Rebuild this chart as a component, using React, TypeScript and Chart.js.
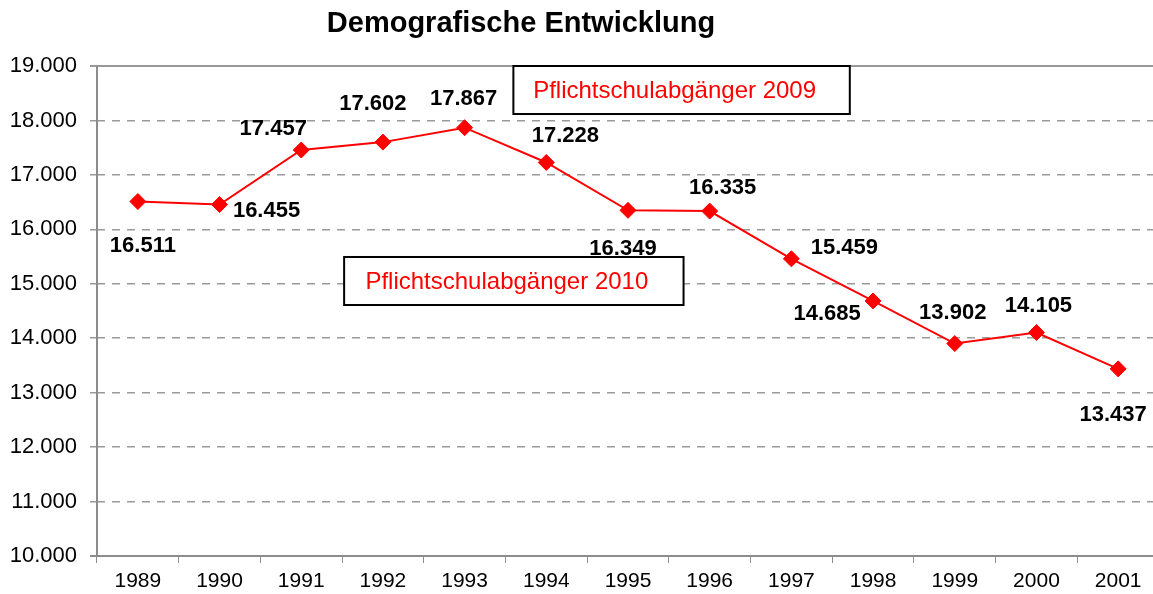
import { useEffect, useRef } from 'react';
import { Chart, registerables } from 'chart.js';

Chart.register(...registerables);

const chartTitle = 'Demografische Entwicklung';
const years = ['1989', '1990', '1991', '1992', '1993', '1994', '1995', '1996', '1997', '1998', '1999', '2000', '2001'];
const values = [16511, 16455, 17457, 17602, 17867, 17228, 16349, 16335, 15459, 14685, 13902, 14105, 13437];
const yMin = 10000;
const yMax = 19000;
const yStep = 1000;

// label offsets relative to each point (dx, dy in px)
const labelOffsets: [number, number][] = [
  [5, 44], [47, 6], [-28, -21], [-10, -38], [-1, -29], [19, -27], [-5, 39],
  [13, -23], [53, -11], [-46, 13], [-2, -31], [2, -27], [-5, 46],
];

// note boxes in data coordinates (category index, value)
const noteTexts = ['Pflichtschulabgänger 2009', 'Pflichtschulabgänger 2010'];
const noteX0 = [4.597, 2.525];
const noteX1 = [8.715, 6.68];
const noteYTop = [19000, 15492];
const noteYBottom = [18118, 14610];

const FONT = '"Liberation Sans", Arial, Helvetica, sans-serif';

const fmt = (v: number) => String(Math.round(v)).replace(/\B(?=(\d{3})+(?!\d))/g, '.');

export default function App() {
  const ref = useRef<HTMLCanvasElement | null>(null);

  useEffect(() => {
    const canvas = ref.current;
    if (!canvas) return;

    const decor = {
      id: 'decor',
      beforeDatasetsDraw(chart: any) {
        const { ctx, chartArea } = chart;
        const ys = chart.scales.y;
        ctx.save();
        ctx.strokeStyle = '#999999';
        ctx.lineWidth = 2;
        ctx.beginPath();
        const yt = Math.round(ys.getPixelForValue(yMax));
        ctx.moveTo(chartArea.left - 7, yt);
        ctx.lineTo(chart.width, yt);
        ctx.stroke();
        ctx.strokeStyle = '#8c8c8c';
        ctx.beginPath();
        const yb = Math.round(ys.getPixelForValue(yMin));
        ctx.moveTo(chartArea.left, yt);
        ctx.lineTo(chartArea.left, yb + 1);
        ctx.moveTo(chartArea.left - 7, yb);
        ctx.lineTo(chart.width, yb);
        ctx.stroke();
        ctx.restore();
      },
      afterDatasetsDraw(chart: any) {
        const { ctx } = chart;
        const meta = chart.getDatasetMeta(0);
        const xs = chart.scales.x;
        const ys = chart.scales.y;
        ctx.save();
        ctx.fillStyle = '#000';
        ctx.font = `bold 22px ${FONT}`;
        ctx.textAlign = 'center';
        ctx.textBaseline = 'middle';
        meta.data.forEach((pt: any, i: number) => {
          const [dx, dy] = labelOffsets[i];
          ctx.fillText(fmt(values[i]), pt.x + dx, pt.y + dy);
        });
        noteTexts.forEach((t, i) => {
          const x0 = xs.getPixelForValue(noteX0[i]);
          const x1 = xs.getPixelForValue(noteX1[i]);
          const y0 = ys.getPixelForValue(noteYTop[i]);
          const y1 = ys.getPixelForValue(noteYBottom[i]);
          ctx.fillStyle = '#fff';
          ctx.fillRect(x0, y0, x1 - x0, y1 - y0);
          ctx.strokeStyle = '#000';
          ctx.lineWidth = 2;
          ctx.strokeRect(x0, y0, x1 - x0, y1 - y0);
          ctx.fillStyle = '#ff0000';
          ctx.font = `24px ${FONT}`;
          ctx.fillText(t, (x0 + x1) / 2 - 7, (y0 + y1) / 2 + 1);
        });
        ctx.fillStyle = '#000';
        ctx.font = `bold 29px ${FONT}`;
        ctx.fillText(chartTitle, 521, 24);
        ctx.restore();
      },
    };

    const chart = new Chart(canvas, {
      type: 'line',
      data: {
        labels: years,
        datasets: [
          {
            data: values,
            borderColor: '#ff0000',
            borderWidth: 2,
            backgroundColor: '#ff0000',
            pointStyle: 'rectRot',
            pointRadius: 8,
            pointBackgroundColor: '#ff0000',
            pointBorderColor: '#ff0000',
            pointBorderWidth: 1,
            tension: 0,
          },
        ],
      },
      options: {
        animation: false,
        responsive: false,
        devicePixelRatio: 1,
        layout: { padding: { top: 66, right: 2, bottom: 0, left: 0 } },
        plugins: {
          legend: { display: false },
          title: { display: false },
          tooltip: { enabled: false },
        },
        scales: {
          x: {
            offset: true,
            afterFit(scale: any) {
              scale.height = 38;
            },
            grid: {
              offset: true,
              drawOnChartArea: false,
              drawTicks: true,
              tickLength: 7,
              tickColor: '#8c8c8c',
              tickWidth: 1,
            },
            border: { display: false },
            ticks: {
              color: '#000',
              font: { family: FONT, size: 21 },
              padding: 6,
              maxRotation: 0,
              autoSkip: false,
            },
          },
          y: {
            min: yMin,
            max: yMax,
            afterFit(scale: any) {
              scale.width = 97;
            },
            grid: {
              color: (c: any) =>
                c.tick && (c.tick.value === yMax || c.tick.value === yMin) ? 'rgba(0,0,0,0)' : '#9a9a9a',
              lineWidth: 1.5,
              tickLength: 7,
              tickColor: '#9a9a9a',
              tickWidth: 1.5,
            },
            border: { display: false, dash: [8, 7] },
            ticks: {
              stepSize: yStep,
              color: '#000',
              padding: 13,
              font: { family: FONT, size: 22 },
              callback: (v: any) => fmt(Number(v)),
            },
          },
        },
      },
      plugins: [decor],
    });

    return () => chart.destroy();
  }, []);

  return (
    <div style={{ position: 'fixed', left: 0, top: 0, width: 1153, height: 594, overflow: 'hidden', background: '#fff' }}>
      <canvas ref={ref} width={1168} height={594} style={{ width: 1168, height: 594, display: 'block' }} />
    </div>
  );
}
